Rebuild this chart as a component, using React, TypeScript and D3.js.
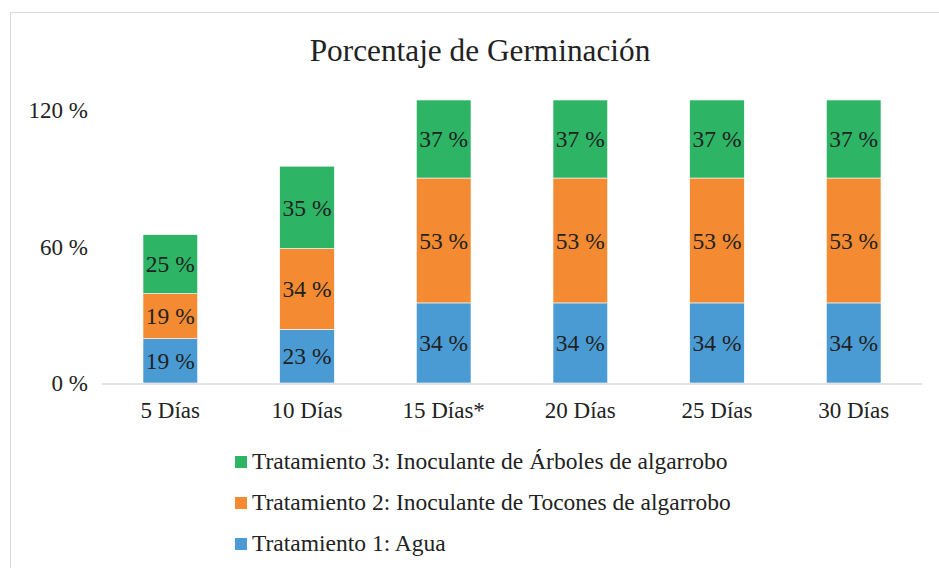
import { useEffect, useRef } from 'react'
import * as d3 from 'd3'

// categories and series (bar heights, in %)
const categorias = ['5 Días', '10 Días', '15 Días*', '20 Días', '25 Días', '30 Días']
const tratamiento1 = [19.5, 23.6, 35.2, 35.2, 35.2, 35.2]
const tratamiento2 = [19.8, 35.5, 54.9, 54.9, 54.9, 54.9]
const tratamiento3 = [25.9, 36.2, 34.3, 34.3, 34.3, 34.3]

// printed data labels
const etiquetas1 = [19, 23, 34, 34, 34, 34]
const etiquetas2 = [19, 34, 53, 53, 53, 53]
const etiquetas3 = [25, 35, 37, 37, 37, 37]

const yTicks = [0, 60, 120]

const series = [
  { key: 't1', name: 'Tratamiento 1: Agua', values: tratamiento1, labels: etiquetas1, color: '#4a9bd4' },
  { key: 't2', name: 'Tratamiento 2: Inoculante de Tocones de algarrobo', values: tratamiento2, labels: etiquetas2, color: '#f48a31' },
  { key: 't3', name: 'Tratamiento 3: Inoculante de Árboles de algarrobo', values: tratamiento3, labels: etiquetas3, color: '#2db465' },
]

export default function App() {
  const svgRef = useRef<SVGSVGElement>(null)

  useEffect(() => {
    if (!svgRef.current) return
    const svg = d3.select(svgRef.current)
    svg.selectAll('*').remove()

    const font = 'Liberation Serif, Tinos, DejaVu Serif, serif'
    const textColor = '#222'

    // chart frame
    svg.append('rect')
      .attr('x', 10.5).attr('y', 12.5)
      .attr('width', 940).attr('height', 580)
      .attr('fill', '#fff')
      .attr('stroke', '#d9d9d9')

    svg.append('text')
      .attr('x', 480).attr('y', 61)
      .attr('text-anchor', 'middle')
      .attr('font-family', font)
      .attr('font-size', 31.3)
      .attr('fill', textColor)
      .text('Porcentaje de Germinación')

    const x = d3.scaleBand<string>()
      .domain(categorias)
      .range([102, 922])
      .paddingInner(0.6)
      .paddingOuter(0.3)

    const y = d3.scaleLinear().domain([0, 120]).range([383, 110])

    // y tick labels
    svg.append('g')
      .selectAll('text')
      .data(yTicks)
      .enter().append('text')
      .attr('x', 88)
      .attr('y', d => y(d))
      .attr('dy', '0.35em')
      .attr('text-anchor', 'end')
      .attr('font-family', font)
      .attr('font-size', 23)
      .attr('fill', textColor)
      .text(d => `${d} %`)

    // stacks
    const rows = categorias.map((c, i) => ({ cat: c, t1: tratamiento1[i], t2: tratamiento2[i], t3: tratamiento3[i] }))
    const stacked = d3.stack<any>().keys(series.map(s => s.key))(rows)

    stacked.forEach((layer, si) => {
      const s = series[si]
      const g = svg.append('g')
      g.selectAll('rect')
        .data(layer)
        .enter().append('rect')
        .attr('x', d => x(d.data.cat)!)
        .attr('y', d => y(d[1]))
        .attr('width', x.bandwidth())
        .attr('height', d => y(d[0]) - y(d[1]))
        .attr('fill', s.color)
        .attr('stroke', '#fff')
        .attr('stroke-width', 0.6)

      g.selectAll('text')
        .data(layer)
        .enter().append('text')
        .attr('x', d => x(d.data.cat)! + x.bandwidth() / 2)
        .attr('y', d => (y(d[0]) + y(d[1])) / 2)
        .attr('dy', '0.35em')
        .attr('text-anchor', 'middle')
        .attr('font-family', font)
        .attr('font-size', 23.5)
        .attr('fill', textColor)
        .text((d, i) => `${s.labels[i]} %`)
    })

    // x axis line
    svg.append('line')
      .attr('x1', 102).attr('x2', 922)
      .attr('y1', 384).attr('y2', 384)
      .attr('stroke', '#d9d9d9')
      .attr('stroke-width', 1.5)

    svg.append('g')
      .selectAll('text')
      .data(categorias)
      .enter().append('text')
      .attr('x', d => x(d)! + x.bandwidth() / 2)
      .attr('y', 418)
      .attr('text-anchor', 'middle')
      .attr('font-family', font)
      .attr('font-size', 23)
      .attr('fill', textColor)
      .text(d => d)

    // legend
    const legendData = [series[2], series[1], series[0]]
    const legend = svg.append('g').attr('transform', 'translate(235, 469)')
    legend.selectAll('.legend-item')
      .data(legendData)
      .enter().append('g')
      .attr('class', 'legend-item')
      .attr('transform', (d, i) => `translate(0, ${i * 41})`)
      .each(function (d) {
        d3.select(this).append('rect')
          .attr('x', 0).attr('y', -13)
          .attr('width', 12).attr('height', 12)
          .attr('fill', d.color)
        d3.select(this).append('text')
          .attr('x', 17)
          .attr('y', 0)
          .attr('font-family', font)
          .attr('font-size', 23.5)
          .attr('fill', textColor)
          .text(d.name)
      })
  }, [])

  return (
    <>
      <style>{'body{margin:0}'}</style>
      <svg ref={svgRef} width={939} height={568} style={{ display: 'block', background: '#fff' }} />
    </>
  )
}
